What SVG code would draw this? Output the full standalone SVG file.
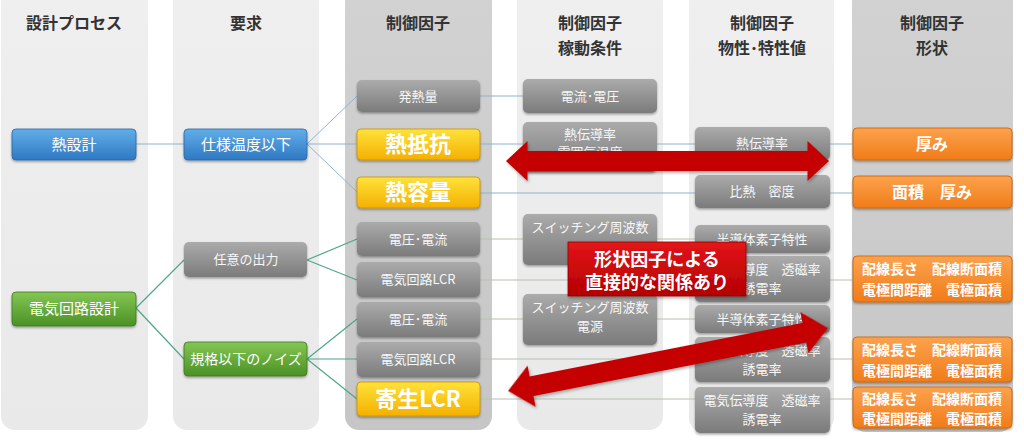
<svg xmlns="http://www.w3.org/2000/svg" width="1024" height="446" viewBox="0 0 1024 446">
<defs>
<linearGradient id="gPanel" x1="0" y1="0" x2="0" y2="1"><stop offset="0" stop-color="#efefef"/><stop offset="1" stop-color="#e9e9e9"/></linearGradient>
<linearGradient id="gPanelD" x1="0" y1="0" x2="0" y2="1"><stop offset="0" stop-color="#d2d2d2"/><stop offset="1" stop-color="#c6c6c6"/></linearGradient>
<linearGradient id="gGrey" x1="0" y1="0" x2="0" y2="1"><stop offset="0" stop-color="#ababab"/><stop offset="1" stop-color="#7b7b7b"/></linearGradient>
<linearGradient id="gBlue" x1="0" y1="0" x2="0" y2="1"><stop offset="0" stop-color="#62aee8"/><stop offset="1" stop-color="#2f78c2"/></linearGradient>
<linearGradient id="gGreen" x1="0" y1="0" x2="0" y2="1"><stop offset="0" stop-color="#84c653"/><stop offset="1" stop-color="#4b9126"/></linearGradient>
<linearGradient id="gYellow" x1="0" y1="0" x2="0" y2="1"><stop offset="0" stop-color="#ffe23a"/><stop offset="1" stop-color="#f4b000"/></linearGradient>
<linearGradient id="gOrange" x1="0" y1="0" x2="0" y2="1"><stop offset="0" stop-color="#fca24c"/><stop offset="1" stop-color="#f07c1a"/></linearGradient>
<linearGradient id="gRed" x1="0" y1="0" x2="0" y2="1"><stop offset="0" stop-color="#e3141a"/><stop offset="1" stop-color="#b40000"/></linearGradient>
<filter id="sh" x="-10%" y="-20%" width="120%" height="150%"><feDropShadow dx="0" dy="1.5" stdDeviation="1.2" flood-color="#000" flood-opacity="0.35"/></filter>
<filter id="shA" x="-10%" y="-30%" width="120%" height="170%"><feDropShadow dx="1" dy="2" stdDeviation="1.5" flood-color="#000" flood-opacity="0.3"/></filter>
<style>
.panel{fill:url(#gPanel)}
.panelD{fill:url(#gPanelD)}
.grey{fill:url(#gGrey);filter:url(#sh)}
.blue{fill:url(#gBlue);stroke:#2a66a8;stroke-width:0.8;filter:url(#sh)}
.green{fill:url(#gGreen);stroke:#3e7a1e;stroke-width:0.8;filter:url(#sh)}
.yellow{fill:url(#gYellow);stroke:#c98f00;stroke-width:0.8;filter:url(#sh)}
.orange{fill:url(#gOrange);stroke:#c9620f;stroke-width:0.8;filter:url(#sh)}
text{font-family:"Noto Sans CJK JP","Noto Sans",sans-serif;text-anchor:middle}
.hd{font-size:16px;font-weight:bold;fill:#333}
.t{fill:#f7f7f7;font-size:13px}
.tm{fill:#fff;font-size:15px}
.tb{fill:#fff;font-size:22px;font-weight:bold}
.to{fill:#fff;font-size:16px;font-weight:bold}
.to2{fill:#fff;font-size:14px;font-weight:bold}
.lb{stroke:#8fb3d1;stroke-width:1;fill:none}
.lg{stroke:#4fa68a;stroke-width:1.2;fill:none}
.ll{stroke:#b7c2ae;stroke-width:1;fill:none}
.red{fill:#c40000;filter:url(#shA)}
</style>
</defs>
<rect width="1024" height="446" fill="#fff"/>
<g id="panels">
<rect class="panel" x="1" y="-12" width="147" height="442" rx="14"/>
<rect class="panel" x="173" y="-12" width="146" height="442" rx="14"/>
<rect class="panelD" x="345" y="-12" width="147" height="442" rx="14"/>
<rect class="panel" x="517" y="-12" width="146" height="442" rx="14"/>
<rect class="panel" x="689" y="-12" width="145" height="444" rx="14"/>
<rect class="panelD" x="852" y="-12" width="161" height="444" rx="14"/>
</g>
<g id="headers">
<text class="hd" x="74" y="29">設計プロセス</text>
<text class="hd" x="246" y="29">要求</text>
<text class="hd" x="418" y="29">制御因子</text>
<text class="hd" x="590" y="29">制御因子</text>
<text class="hd" x="590" y="54">稼動条件</text>
<text class="hd" x="762" y="29">制御因子</text>
<text class="hd" x="762" y="54">物性･特性値</text>
<text class="hd" x="932" y="29">制御因子</text>
<text class="hd" x="932" y="54">形状</text>
</g>
<g id="connectors">
<path class="lb" d="M136 144H184"/>
<path class="lb" d="M307 144L357 96M307 144H357M307 144L357 192"/>
<path class="lb" d="M480 96H523"/>
<path class="lb" d="M480 144H523M657 144H695M830 144H852"/>
<path class="lb" d="M480 193H695M830 193H852"/>
<path class="lg" d="M136 308L184 260M136 308L184 359"/>
<path class="lg" d="M307 260L357 239M307 260L357 280"/>
<path class="lg" d="M307 359L357 319M307 359H357M307 359L357 399"/>
<path class="ll" d="M480 239H523M657 239H695"/>
<path class="ll" d="M480 280H695M830 280H852"/>
<path class="ll" d="M480 319H523M657 319H695"/>
<path class="ll" d="M480 359H695M830 359H852"/>
<path class="ll" d="M480 399H695M830 399H852"/>
</g>
<g id="n-netsusekkei"><rect class="blue" x="12" y="129" width="124" height="31" rx="4"/><text class="tm" x="74" y="150">熱設計</text></g>
<g id="n-shiyou"><rect class="blue" x="184" y="129" width="123" height="31" rx="4"/><text class="tm" x="246" y="150">仕様温度以下</text></g>
<g id="n-hatsunetsu"><rect class="grey" x="357" y="80" width="123" height="32" rx="5"/><text class="t" x="418" y="101">発熱量</text></g>
<g id="n-teikou"><rect class="yellow" x="357" y="129" width="123" height="31" rx="4"/><text class="tb" x="418" y="152">熱抵抗</text></g>
<g id="n-youryou"><rect class="yellow" x="357" y="177" width="123" height="31" rx="4"/><text class="tb" x="418" y="200">熱容量</text></g>
<g id="n-denryu"><rect class="grey" x="523" y="79" width="134" height="34" rx="5"/><text class="t" x="590" y="101">電流･電圧</text></g>
<g id="n-dendo4"><rect class="grey" x="523" y="122" width="134" height="50" rx="5"/><text class="t" x="590" y="139">熱伝導率</text><text class="t" x="590" y="157">雰囲気温度</text></g>
<g id="n-dendo5"><rect class="grey" x="695" y="127" width="135" height="33" rx="5"/><text class="t" x="762" y="148">熱伝導率</text></g>
<g id="n-hinetsu"><rect class="grey" x="695" y="175" width="135" height="33" rx="5"/><text class="t" x="762" y="196">比熱　密度</text></g>
<g id="n-atsumi"><rect class="orange" x="853" y="128" width="159" height="32" rx="4"/><text class="to" x="932" y="150">厚み</text></g>
<g id="n-menseki"><rect class="orange" x="853" y="176" width="159" height="32" rx="4"/><text class="to" x="932" y="198">面積　厚み</text></g>
<g id="n-denki"><rect class="green" x="12" y="292" width="124" height="34" rx="4"/><text class="tm" x="74" y="314">電気回路設計</text></g>
<g id="n-nini"><rect class="grey" x="184" y="242" width="123" height="35" rx="5"/><text class="t" x="246" y="264">任意の出力</text></g>
<g id="n-kikaku"><rect class="green" x="184" y="342" width="123" height="34" rx="4"/><text class="tm" x="246" y="364" style="font-size:14px">規格以下のノイズ</text></g>
<g id="n-den1"><rect class="grey" x="357" y="222" width="123" height="34" rx="5"/><text class="t" x="418" y="244">電圧･電流</text></g>
<g id="n-lcr1"><rect class="grey" x="357" y="262" width="123" height="35" rx="5"/><text class="t" x="418" y="284">電気回路LCR</text></g>
<g id="n-den2"><rect class="grey" x="357" y="302" width="123" height="35" rx="5"/><text class="t" x="418" y="324">電圧･電流</text></g>
<g id="n-lcr2"><rect class="grey" x="357" y="342" width="123" height="35" rx="5"/><text class="t" x="418" y="364">電気回路LCR</text></g>
<g id="n-kisei"><rect class="yellow" x="357" y="382" width="123" height="34" rx="4"/><text class="tb" x="418" y="407">寄生LCR</text></g>
<g id="n-sw1"><rect class="grey" x="523" y="214" width="134" height="51" rx="5"/><text class="t" x="590" y="232">スイッチング周波数</text></g>
<g id="n-sw2"><rect class="grey" x="523" y="294" width="134" height="51" rx="5"/><text class="t" x="590" y="312">スイッチング周波数</text><text class="t" x="590" y="331">電源</text></g>
<g id="n-han1"><rect class="grey" x="695" y="225" width="135" height="28" rx="5"/><text class="t" x="762" y="244">半導体素子特性</text></g>
<g id="n-ep1"><rect class="grey" x="695" y="256" width="135" height="46" rx="5"/><text class="t" x="762" y="274">電気伝導度　透磁率</text><text class="t" x="762" y="293">誘電率</text></g>
<g id="n-han2"><rect class="grey" x="695" y="305" width="135" height="28" rx="5"/><text class="t" x="762" y="324">半導体素子特性</text></g>
<g id="n-ep2"><rect class="grey" x="695" y="337" width="135" height="45" rx="5"/><text class="t" x="762" y="355">電気伝導度　透磁率</text><text class="t" x="762" y="374">誘電率</text></g>
<g id="n-ep3"><rect class="grey" x="695" y="387" width="135" height="46" rx="5"/><text class="t" x="762" y="405">電気伝導度　透磁率</text><text class="t" x="762" y="424">誘電率</text></g>
<g id="n-hai1"><rect class="orange" x="853" y="256" width="159" height="46" rx="4"/><text class="to2" x="932" y="274">配線長さ　配線断面積</text><text class="to2" x="932" y="295">電極間距離　電極面積</text></g>
<g id="n-hai2"><rect class="orange" x="853" y="337" width="159" height="45" rx="4"/><text class="to2" x="932" y="355">配線長さ　配線断面積</text><text class="to2" x="932" y="376">電極間距離　電極面積</text></g>
<g id="n-hai3"><rect class="orange" x="853" y="387" width="159" height="41" rx="4"/><text class="to2" x="932" y="404">配線長さ　配線断面積</text><text class="to2" x="932" y="424">電極間距離　電極面積</text></g>
<g id="arrows">
<polygon class="red" transform="translate(667.5 161)" points="-161.5,0 -140,-20 -140,-10 140,-10 140,-20 161.5,0 140,20 140,10 -140,10 -140,20"/>
<polygon class="red" transform="translate(668 359.5) rotate(-11.1)" points="-163,0 -139,-21 -139,-10 139,-10 139,-21 163,0 139,21 139,10 -139,10 -139,21"/>
</g>
<g id="label">
<rect x="568" y="242" width="178" height="54" fill="url(#gRed)" stroke="#8c0000" stroke-width="0.8" filter="url(#shA)"/>
<text x="657" y="266" style="font-size:18px;font-weight:bold;fill:#fff">形状因子による</text>
<text x="657" y="289" style="font-size:18px;font-weight:bold;fill:#fff">直接的な関係あり</text>
</g>
</svg>
